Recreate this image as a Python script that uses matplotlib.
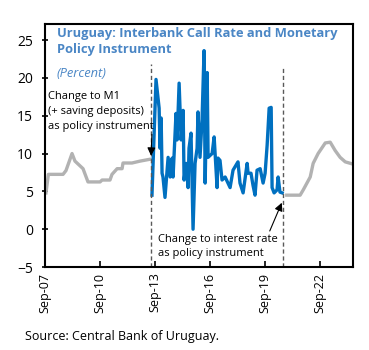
import numpy as np
import matplotlib
matplotlib.use('Agg')
import matplotlib.pyplot as plt

plt.rcParams['font.family'] = ['Open Sans', 'DejaVu Sans']

# Policy rate (grey), decimal years
grey_x1 = [2007.72, 2007.85, 2008.65, 2008.81, 2009.14, 2009.30, 2009.74, 2010.01,
           2010.67, 2010.78, 2011.21, 2011.32, 2011.60, 2011.87, 2011.92, 2012.41,
           2012.85, 2013.40, 2013.48]
grey_y1 = [4.8, 7.25, 7.25, 7.75, 10.0, 9.0, 8.0, 6.25,
           6.25, 6.5, 6.5, 7.25, 8.0, 8.0, 8.75, 8.75,
           9.0, 9.25, 9.25]

grey_x2 = [2020.85, 2021.42, 2021.58, 2021.75, 2022.13, 2022.29, 2022.56, 2022.95,
           2023.22, 2023.49, 2023.76, 2024.04, 2024.47]
grey_y2 = [4.5, 4.5, 4.5, 5.2, 6.9, 8.7, 10.0, 11.4,
           11.5, 10.4, 9.5, 8.9, 8.6]

# Interbank call rate (blue)
blue_x = [2013.50, 2013.72, 2013.89, 2013.94, 2014.00, 2014.05, 2014.10, 2014.21,
          2014.38, 2014.49, 2014.60, 2014.65, 2014.81, 2014.87, 2014.98, 2015.09,
          2015.20, 2015.25, 2015.36, 2015.47, 2015.52, 2015.63, 2015.74, 2015.85,
          2015.96, 2016.01, 2016.12, 2016.23, 2016.34, 2016.40, 2016.51, 2016.56,
          2016.78, 2016.89, 2017.05, 2017.10, 2017.21, 2017.32, 2017.49, 2017.76,
          2017.92, 2018.14, 2018.19, 2018.30, 2018.47, 2018.69, 2018.74, 2018.90,
          2019.01, 2019.12, 2019.23, 2019.40, 2019.56, 2019.67, 2019.78, 2019.89,
          2020.00, 2020.05, 2020.16, 2020.32, 2020.38, 2020.48, 2020.60]
blue_y = [4.5, 19.8, 16.0, 10.7, 14.7, 7.4, 6.9, 4.2,
          9.5, 6.9, 9.4, 6.9, 15.3, 11.8, 19.3, 11.8,
          15.7, 6.5, 8.7, 5.5, 10.7, 12.7, 0.0, 8.7,
          10.7, 15.5, 9.5, 14.4, 23.6, 6.1, 20.7, 9.5,
          10.0, 12.2, 5.5, 9.4, 9.1, 6.5, 6.9, 5.5,
          7.8, 8.7, 8.9, 6.1, 4.8, 8.7, 7.4, 7.4,
          5.8, 4.5, 7.8, 8.0, 6.1, 7.4, 11.1, 16.0,
          16.1, 5.5, 4.8, 5.2, 6.9, 4.9, 4.8]

tick_pos = [2007.667, 2010.667, 2013.667, 2016.667, 2019.667, 2022.667]
tick_labels = ['Sep-07', 'Sep-10', 'Sep-13', 'Sep-16', 'Sep-19', 'Sep-22']

switch_dates = [2013.47, 2020.65]

fig = plt.figure(figsize=(3.69, 3.5), dpi=100)
ax = fig.add_axes([0.122, 0.237, 0.835, 0.694])

ax.plot(grey_x1, grey_y1, color='#b2b2b2', lw=2.4, solid_joinstyle='round')
ax.plot(grey_x2, grey_y2, color='#b2b2b2', lw=2.4, solid_joinstyle='round')
ax.plot(blue_x, blue_y, color='#0070c0', lw=2.4, solid_joinstyle='round')

ax.plot([switch_dates[0]] * 2, [-5, 21.8], color='#595959', lw=1, ls=(0, (3, 2)))
ax.plot([switch_dates[1]] * 2, [-5, 21.5], color='#595959', lw=1, ls=(0, (3, 2)))

ax.set_xlim(2007.667, 2024.47)
ax.set_ylim(-5, 27.1)
ax.set_yticks([-5, 0, 5, 10, 15, 20, 25])
ax.set_xticks(tick_pos)
ax.set_xticklabels(tick_labels, rotation=90)
ax.tick_params(axis='x', direction='in', length=4, width=1.2, labelsize=9, pad=4)
ax.tick_params(axis='y', direction='inout', length=5, width=1.2, labelsize=10, pad=6)
for s in ax.spines.values():
    s.set_linewidth(1.5)

ax.text(2008.3, 26.7, 'Uruguay: Interbank Call Rate and Monetary\nPolicy Instrument',
        color='#4a86c5', fontsize=9.3, fontweight='bold', va='top', ha='left',
        linespacing=1.3)
ax.text(2008.3, 21.5, '(Percent)', color='#4a86c5', fontsize=9.3, style='italic',
        va='top', ha='left')

ax.annotate('Change to M1\n(+ saving deposits)\nas policy instrument',
            xy=(2013.45, 9.7), xytext=(2007.85, 18.2),
            fontsize=8, va='top', ha='left', linespacing=1.45,
            arrowprops=dict(arrowstyle='-|>', color='black', lw=0.8,
                            mutation_scale=12, shrinkA=0, shrinkB=0,
                            relpos=(0.98, 0.0)))
ax.annotate('Change to interest rate\nas policy instrument',
            xy=(2020.58, 3.5), xytext=(2013.85, -0.6),
            fontsize=8, va='top', ha='left', linespacing=1.45,
            arrowprops=dict(arrowstyle='-|>', color='black', lw=0.8,
                            mutation_scale=12, shrinkA=0, shrinkB=0,
                            relpos=(0.92, 1.0)))

fig.text(0.068, 0.02, 'Source: Central Bank of Uruguay.', fontsize=9, ha='left',
         va='bottom')

fig.savefig('out.png', dpi=100)
